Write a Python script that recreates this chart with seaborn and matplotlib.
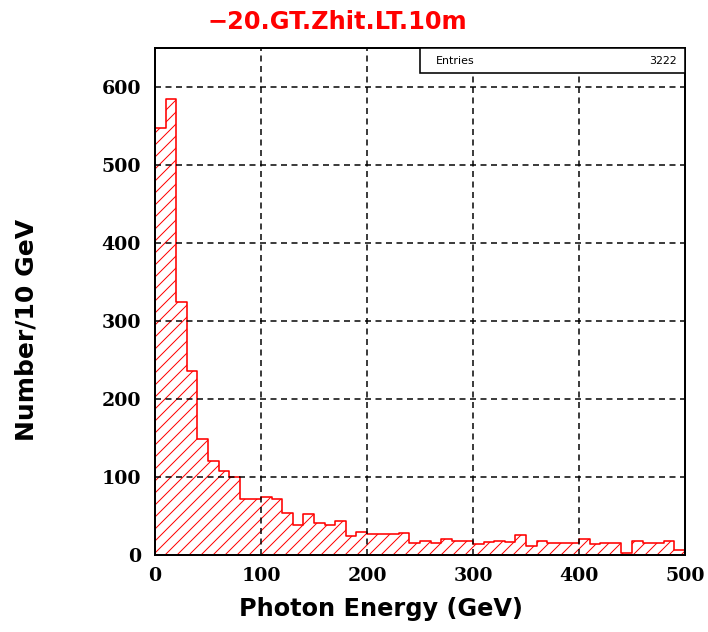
import numpy as np
import pandas as pd
import matplotlib
matplotlib.use("Agg")
import matplotlib.pyplot as plt
import seaborn as sns
from matplotlib.ticker import MultipleLocator
from matplotlib.patches import Rectangle
from matplotlib.font_manager import FontProperties

# ---- data ----
bin_edges = list(range(0, 510, 10))  # GeV, 10 GeV bins
counts = [548, 584, 324, 236, 149, 121, 108, 100, 72, 72,
          75, 72, 54, 38, 53, 41, 39, 43, 24, 29,
          27, 27, 27, 28, 16, 18, 16, 20, 18, 18,
          14, 17, 18, 17, 26, 11, 18, 15, 16, 16,
          20, 14, 16, 16, 2, 18, 16, 16, 18, 7]
title_text = "\u221220.GT.Zhit.LT.10m"
entries = 3222
x_label = "Photon Energy (GeV)"
y_label = "Number/10 GeV"

centers = [(a + b) / 2 for a, b in zip(bin_edges[:-1], bin_edges[1:])]
df = pd.DataFrame({"energy": centers, "count": counts})

sns.set_style("white")
plt.rcParams["hatch.color"] = "red"
plt.rcParams["hatch.linewidth"] = 1.0
plt.rcParams["font.family"] = ["DejaVu Sans"]
for k in ["text.color", "axes.labelcolor", "xtick.color", "ytick.color"]:
    plt.rcParams[k] = "black"

DPI = 72
fig = plt.figure(figsize=(708 / DPI, 632 / DPI), dpi=DPI)
ax = fig.add_axes([155 / 708, 1 - 555 / 632, 530 / 708, 507 / 632])

sns.histplot(data=df, x="energy", weights="count", bins=bin_edges,
             element="step", fill=True, color="red", facecolor="none",
             edgecolor="red", hatch="//", linewidth=1.6, ax=ax)

ax.set_xlim(0, 500)
ax.set_ylim(0, 650)
ax.xaxis.set_major_locator(MultipleLocator(100))
ax.xaxis.set_minor_locator(MultipleLocator(20))
ax.yaxis.set_major_locator(MultipleLocator(100))
ax.yaxis.set_minor_locator(MultipleLocator(20))

ax.grid(True, which="major", color="black", linestyle=(0, (4, 3)), linewidth=1.5)
ax.set_axisbelow(False)

ax.tick_params(axis="x", which="major", direction="in", length=20, width=1.6,
               top=False, pad=12, colors="black")
ax.tick_params(axis="x", which="minor", direction="in", length=11, width=1.6,
               top=False, colors="black")
ax.tick_params(axis="y", which="major", direction="in", length=20, width=1.6,
               right=False, pad=14, colors="black")
ax.tick_params(axis="y", which="minor", direction="in", length=13, width=1.6,
               right=False, colors="black")

for s in ax.spines.values():
    s.set_color("black")
    s.set_linewidth(2)

tick_fp = FontProperties(family="DejaVu Serif", weight="bold", size=19)
for lab in ax.get_xticklabels() + ax.get_yticklabels():
    lab.set_fontproperties(tick_fp)

ax.set_xlabel(x_label, fontsize=24, fontweight="bold", family="DejaVu Sans", color="black")
ax.set_ylabel(y_label, fontsize=25, fontweight="bold", family="DejaVu Sans", color="black")
ax.xaxis.set_label_coords((381 - 155) / 530, -(597 - 555) / 507)
ax.yaxis.set_label_coords((39 - 155) / 530, (555 - 330) / 507)

# stats box
ax.add_patch(Rectangle((0.5, 1 - 25 / 507), 0.5, 25 / 507, transform=ax.transAxes,
                       facecolor="white", edgecolor="black", linewidth=1.6,
                       zorder=5, clip_on=False))
ax.text(0.53, 1 - 12.5 / 507, "Entries", transform=ax.transAxes, ha="left",
        va="center", fontsize=11, family="DejaVu Sans", color="black", zorder=6)
ax.text(0.985, 1 - 12.5 / 507, str(entries), transform=ax.transAxes, ha="right",
        va="center", fontsize=11, family="DejaVu Sans", color="black", zorder=6)

fig.text(208 / 708, 1 - 22 / 632, title_text, color="red", fontsize=24,
         fontweight="bold", family="DejaVu Sans", ha="left", va="center")

fig.savefig("out.png", dpi=DPI)
